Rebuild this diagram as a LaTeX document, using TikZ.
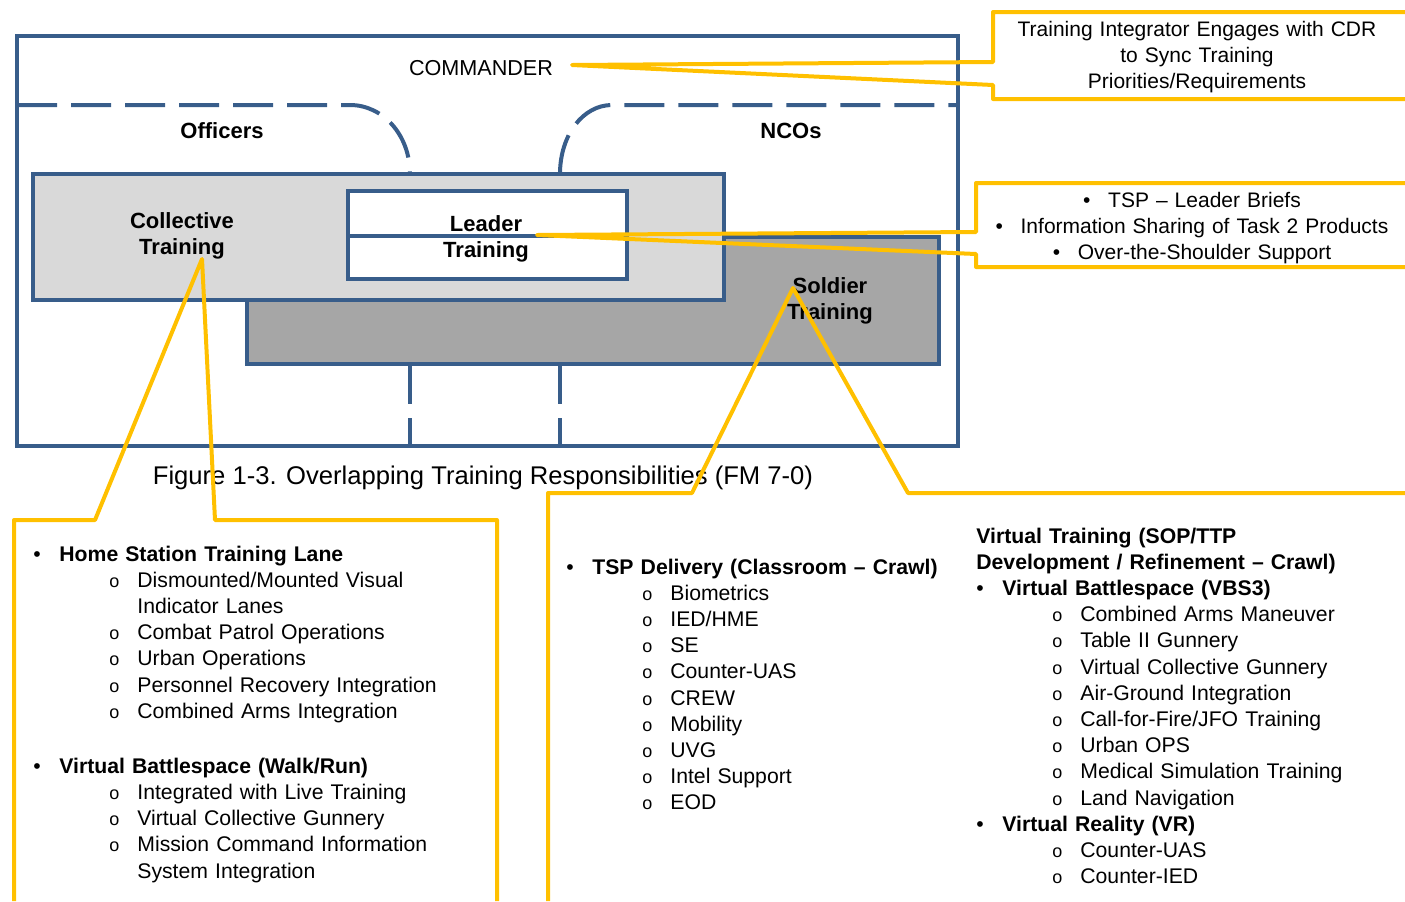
\documentclass[tikz,border=0pt]{standalone}
\usepackage{fontspec}
\setmainfont{Liberation Sans}

\definecolor{boxblue}{HTML}{385D8A}
\definecolor{calloutyellow}{HTML}{FFC000}
\definecolor{collectivegray}{HTML}{D9D9D9}
\definecolor{soldiergray}{HTML}{A6A6A6}

% list helpers: bullet item, sub item, continuation line
\newcommand{\bulpt}[1]{\makebox[13pt][l]{\textbullet}\textbf{#1}}
\newcommand{\subpt}[1]{\hspace*{38pt}\makebox[14pt][l]{\fontsize{9}{9}\selectfont o}#1}
\newcommand{\contpt}[1]{\hspace*{52pt}#1}
\newcommand{\notebul}{\makebox[12.5pt][l]{\textbullet}}

\begin{document}
\begin{tikzpicture}[ % one unit is one pixel of the reference
x=0.5pt, y=-0.5pt,
blue_box/.style={draw=boxblue, line width=2pt},
dash_line/.style={draw=boxblue, line width=2pt, dash pattern=on 20pt off 7pt},
callout_line/.style={draw=calloutyellow, line width=2pt, line join=round},
box_text/.style={anchor=base, inner sep=0pt, text width=90pt, align=center, font=\fontsize{11}{13}\selectfont\bfseries},
note_text/.style={anchor=base, inner sep=0pt, text width=215pt, align=center, font=\fontsize{10.5}{13}\selectfont},
list_text/.style={anchor=base west, inner sep=0pt, text width=230pt, align=left, font=\fontsize{10.6}{13.1}\selectfont}
]
\useasboundingbox (0,0) rectangle (1405,901);

% \draw[style](corner) rectangle (corner)
\draw[blue_box, fill=soldiergray](247,237) rectangle (939,364);
\draw[blue_box, fill=collectivegray](33,174) rectangle (724,300);
\draw[blue_box, fill=white](348,191) rectangle (627,279);
\draw[blue_box](348,236) -- (627,236);
\draw[blue_box](17,36) rectangle (958,446);

% officers / NCOs borders
\draw[dash_line](17,105) -- (350,105) .. controls (383,105) and (410,135) .. (410,174);
\draw[dash_line](560,174) .. controls (560,135) and (583,105) .. (612,105) -- (958,105);
\draw[dash_line](410,364) -- (410,446);
\draw[dash_line](560,364) -- (560,446);

% \node[type](name_of_node) at (x,y) {node_text};
\node[box_text, font=\fontsize{10.8}{13}\selectfont](commander) at (481,75) {COMMANDER};
\node[box_text](officers) at (222,138) {Officers};
\node[box_text](ncos) at (791,138) {NCOs};
\node[box_text](collective) at (182,228) {Collective\\Training};
\node[box_text](leader) at (486,231) {Leader\\Training};
\node[box_text](soldier) at (830,293) {Soldier\\Training};

\node[anchor=base, inner sep=0pt, font=\fontsize{12.8}{15}\selectfont](caption) at (483,484) {Figure 1-3. Overlapping Training Responsibilities (FM 7-0)};

\node[note_text](sync_note) at (1197,36) {Training Integrator Engages with CDR\\to Sync Training\\Priorities/Requirements};
\node[note_text, text width=225pt](leader_note) at (1192,207) {\notebul TSP -- Leader Briefs\\\notebul Information Sharing of Task 2 Products\\\notebul Over-the-Shoulder Support};

\node[list_text](collective_list) at (33,561) {
\bulpt{Home Station Training Lane}\\
\subpt{Dismounted/Mounted Visual}\\
\contpt{Indicator Lanes}\\
\subpt{Combat Patrol Operations}\\
\subpt{Urban Operations}\\
\subpt{Personnel Recovery Integration}\\
\subpt{Combined Arms Integration}\\[14.4pt]
\bulpt{Virtual Battlespace (Walk/Run)}\\
\subpt{Integrated with Live Training}\\
\subpt{Virtual Collective Gunnery}\\
\subpt{Mission Command Information}\\
\contpt{System Integration}};

\node[list_text](soldier_list) at (566,574) {
\bulpt{TSP Delivery (Classroom -- Crawl)}\\
\subpt{Biometrics}\\
\subpt{IED/HME}\\
\subpt{SE}\\
\subpt{Counter-UAS}\\
\subpt{CREW}\\
\subpt{Mobility}\\
\subpt{UVG}\\
\subpt{Intel Support}\\
\subpt{EOD}};

\node[list_text](virtual_list) at (976,543) {
\textbf{Virtual Training (SOP/TTP}\\
\textbf{Development / Refinement -- Crawl)}\\
\bulpt{Virtual Battlespace (VBS3)}\\
\subpt{Combined Arms Maneuver}\\
\subpt{Table II Gunnery}\\
\subpt{Virtual Collective Gunnery}\\
\subpt{Air-Ground Integration}\\
\subpt{Call-for-Fire/JFO Training}\\
\subpt{Urban OPS}\\
\subpt{Medical Simulation Training}\\
\subpt{Land Navigation}\\
\bulpt{Virtual Reality (VR)}\\
\subpt{Counter-UAS}\\
\subpt{Counter-IED}};

% callout tips
\coordinate(commander_tip) at (572,65);
\coordinate(leader_tip) at (537,235);
\coordinate(collective_tip) at (202,259);
\coordinate(soldier_tip) at (793,288);

% \draw[callout_line](corner) -- ... -- (tip) -- ... -- (corner)
\draw[callout_line](1405,12) -- (993,12) -- (993,62) -- (commander_tip) -- (993,85) -- (993,99) -- (1405,99);
\draw[callout_line](1405,183) -- (976,183) -- (976,232) -- (leader_tip) -- (976,254) -- (976,267) -- (1405,267);
\draw[callout_line](14,901) -- (14,520) -- (95,520) -- (collective_tip) -- (215,520) -- (497,520) -- (497,901);
\draw[callout_line](548,901) -- (548,493) -- (692,493) -- (soldier_tip) -- (908,493) -- (1405,493);
\end{tikzpicture}
\end{document}
